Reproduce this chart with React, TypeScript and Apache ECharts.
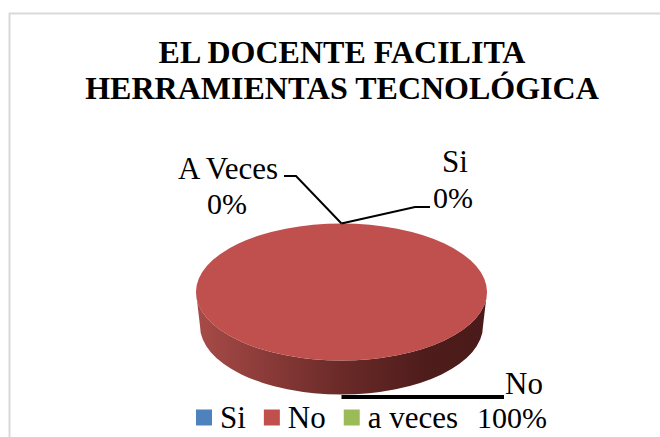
import React, { useEffect, useRef } from "react";
import * as echarts from "echarts";

const titleText = "EL DOCENTE FACILITA\nHERRAMIENTAS TECNOLÓGICA";
const legendNames = ["Si", "No", "a veces"];
const labelNames = ["Si", "No", "A Veces"];
const values = [0, 100, 0];
const colors = ["#4F81BD", "#C0504D", "#9BBB59"];

const FONT = "Liberation Serif";
const CX = 341.5;
const CY = 292;
const RX = 145.5;
const RY = 68.5;
const DEPTH = 34;
const INSET = 4;

// Where each label and its leader line sit, by category.
const labelLayouts = [
  { name: [455, 161], pct: [453, 197], line: [[415, 207], [430, 207]], width: 2 },
  { name: [524, 383], pct: [512, 417], line: [[504, 397]], width: 4 },
  { name: [228, 168], pct: [227, 203], line: [[296, 176], [284, 176]], width: 2 },
];

const total = values.reduce((a, b) => a + b, 0);
const startAngles: number[] = [];
values.reduce((acc, v, i) => {
  startAngles[i] = acc;
  return acc + (v / total) * Math.PI * 2;
}, 0);

// Angle measured clockwise from the top of the ellipse.
const pt = (a: number, cy = CY, rx = RX, ry = RY) => [
  CX + rx * Math.sin(a),
  cy - ry * Math.cos(a),
];

function topPath(a0: number, a1: number) {
  const arc = `A${RX} ${RY} 0 0 1`;
  if (a1 - a0 >= Math.PI * 2 - 1e-6) {
    const [x0, y0] = pt(0);
    const [x1, y1] = pt(Math.PI);
    return `M${x0} ${y0} ${arc} ${x1} ${y1} ${arc} ${x0} ${y0}Z`;
  }
  const [x0, y0] = pt(a0);
  const [x1, y1] = pt(a1);
  const large = a1 - a0 > Math.PI ? 1 : 0;
  return `M${CX} ${CY} L${x0} ${y0} A${RX} ${RY} 0 ${large} 1 ${x1} ${y1}Z`;
}

function wallPath(a0: number, a1: number) {
  const from = Math.max(a0, Math.PI / 2);
  const to = Math.min(a1, (Math.PI * 3) / 2);
  if (to <= from) return null;
  const cyB = CY + DEPTH;
  const rxB = RX - INSET;
  const [tx0, ty0] = pt(from);
  const [tx1, ty1] = pt(to);
  const [bx0, by0] = pt(from, cyB, rxB);
  const [bx1, by1] = pt(to, cyB, rxB);
  return `M${tx0} ${ty0} A${RX} ${RY} 0 0 1 ${tx1} ${ty1} L${bx1} ${by1} A${rxB} ${RY} 0 0 0 ${bx0} ${by0}Z`;
}

const labelStyle = (text: string, pos: number[], fontSize: number) => ({
  text,
  x: pos[0],
  y: pos[1],
  fontFamily: FONT,
  fontSize,
  fill: "#000",
  align: "center",
  verticalAlign: "middle",
});

const makeRenderItem = (i: number) => (_params: any, api: any) => {
  const span = (api.value(0) / total) * Math.PI * 2;
  const a0 = startAngles[i];
  const a1 = a0 + span;
  const mid = (a0 + a1) / 2;
  const layout = labelLayouts[i];
  const children: any[] = [];
  if (span > 0) {
    const wall = wallPath(a0, a1);
    if (wall) {
      children.push({
        type: "path",
        shape: { pathData: wall },
        style: {
          fill: new echarts.graphic.LinearGradient(0, 0, 1, 0, [
            { offset: 0, color: "#A84B48" },
            { offset: 0.5, color: "#6A2A28" },
            { offset: 0.8, color: "#4D1C1B" },
            { offset: 1, color: "#4A1B1A" },
          ]),
        },
      });
    }
    children.push({
      type: "path",
      shape: { pathData: topPath(a0, a1) },
      style: { fill: colors[i] },
    });
  }
  const front = mid > Math.PI / 2 && mid < (Math.PI * 3) / 2;
  const anchor = front ? pt(mid, CY + DEPTH + 2.5, RX - INSET) : pt(mid);
  children.push({
    type: "polyline",
    z2: 10,
    shape: { points: [anchor, ...layout.line] },
    style: { stroke: "#000", fill: "none", lineWidth: layout.width },
  });
  children.push({ type: "text", z2: 11, style: labelStyle(labelNames[i], layout.name, 31) });
  children.push({
    type: "text",
    z2: 11,
    style: labelStyle(`${Math.round((api.value(0) / total) * 100)}%`, layout.pct, 30),
  });
  return { type: "group", children };
};

export default function App() {
  const ref = useRef<HTMLDivElement>(null);
  useEffect(() => {
    const chart = echarts.init(ref.current!, undefined, { renderer: "svg" });
    chart.setOption({
      animation: false,
      backgroundColor: "#fff",
      color: colors,
      title: {
        text: titleText,
        left: 337,
        top: 29,
        textAlign: "center",
        textStyle: {
          fontFamily: FONT,
          fontWeight: "bold",
          fontSize: 32,
          lineHeight: 36,
          color: "#000",
        },
      },
      legend: {
        data: legendNames,
        left: 196,
        top: 402,
        padding: 0,
        itemWidth: 16,
        itemHeight: 16,
        itemGap: 18,
        icon: "rect",
        selectedMode: false,
        textStyle: { fontFamily: FONT, fontSize: 31, color: "#000", padding: [0, 0, 0, 3] },
      },
      graphic: [
        {
          type: "polyline",
          shape: { points: [[9.5, 437], [9.5, 13.5], [660, 13.5]] },
          style: { stroke: "#D9D9D9", lineWidth: 2, fill: "none" },
          silent: true,
        },
      ],
      series: legendNames.map((name, i) => ({
        type: "custom",
        name,
        coordinateSystem: "none",
        data: [[values[i]]],
        itemStyle: { color: colors[i] },
        renderItem: makeRenderItem(i),
        silent: true,
      })),
    });
    return () => chart.dispose();
  }, []);
  return (
    <div
      ref={ref}
      style={{ position: "fixed", left: 0, top: 0, width: 660, height: 437 }}
    />
  );
}
